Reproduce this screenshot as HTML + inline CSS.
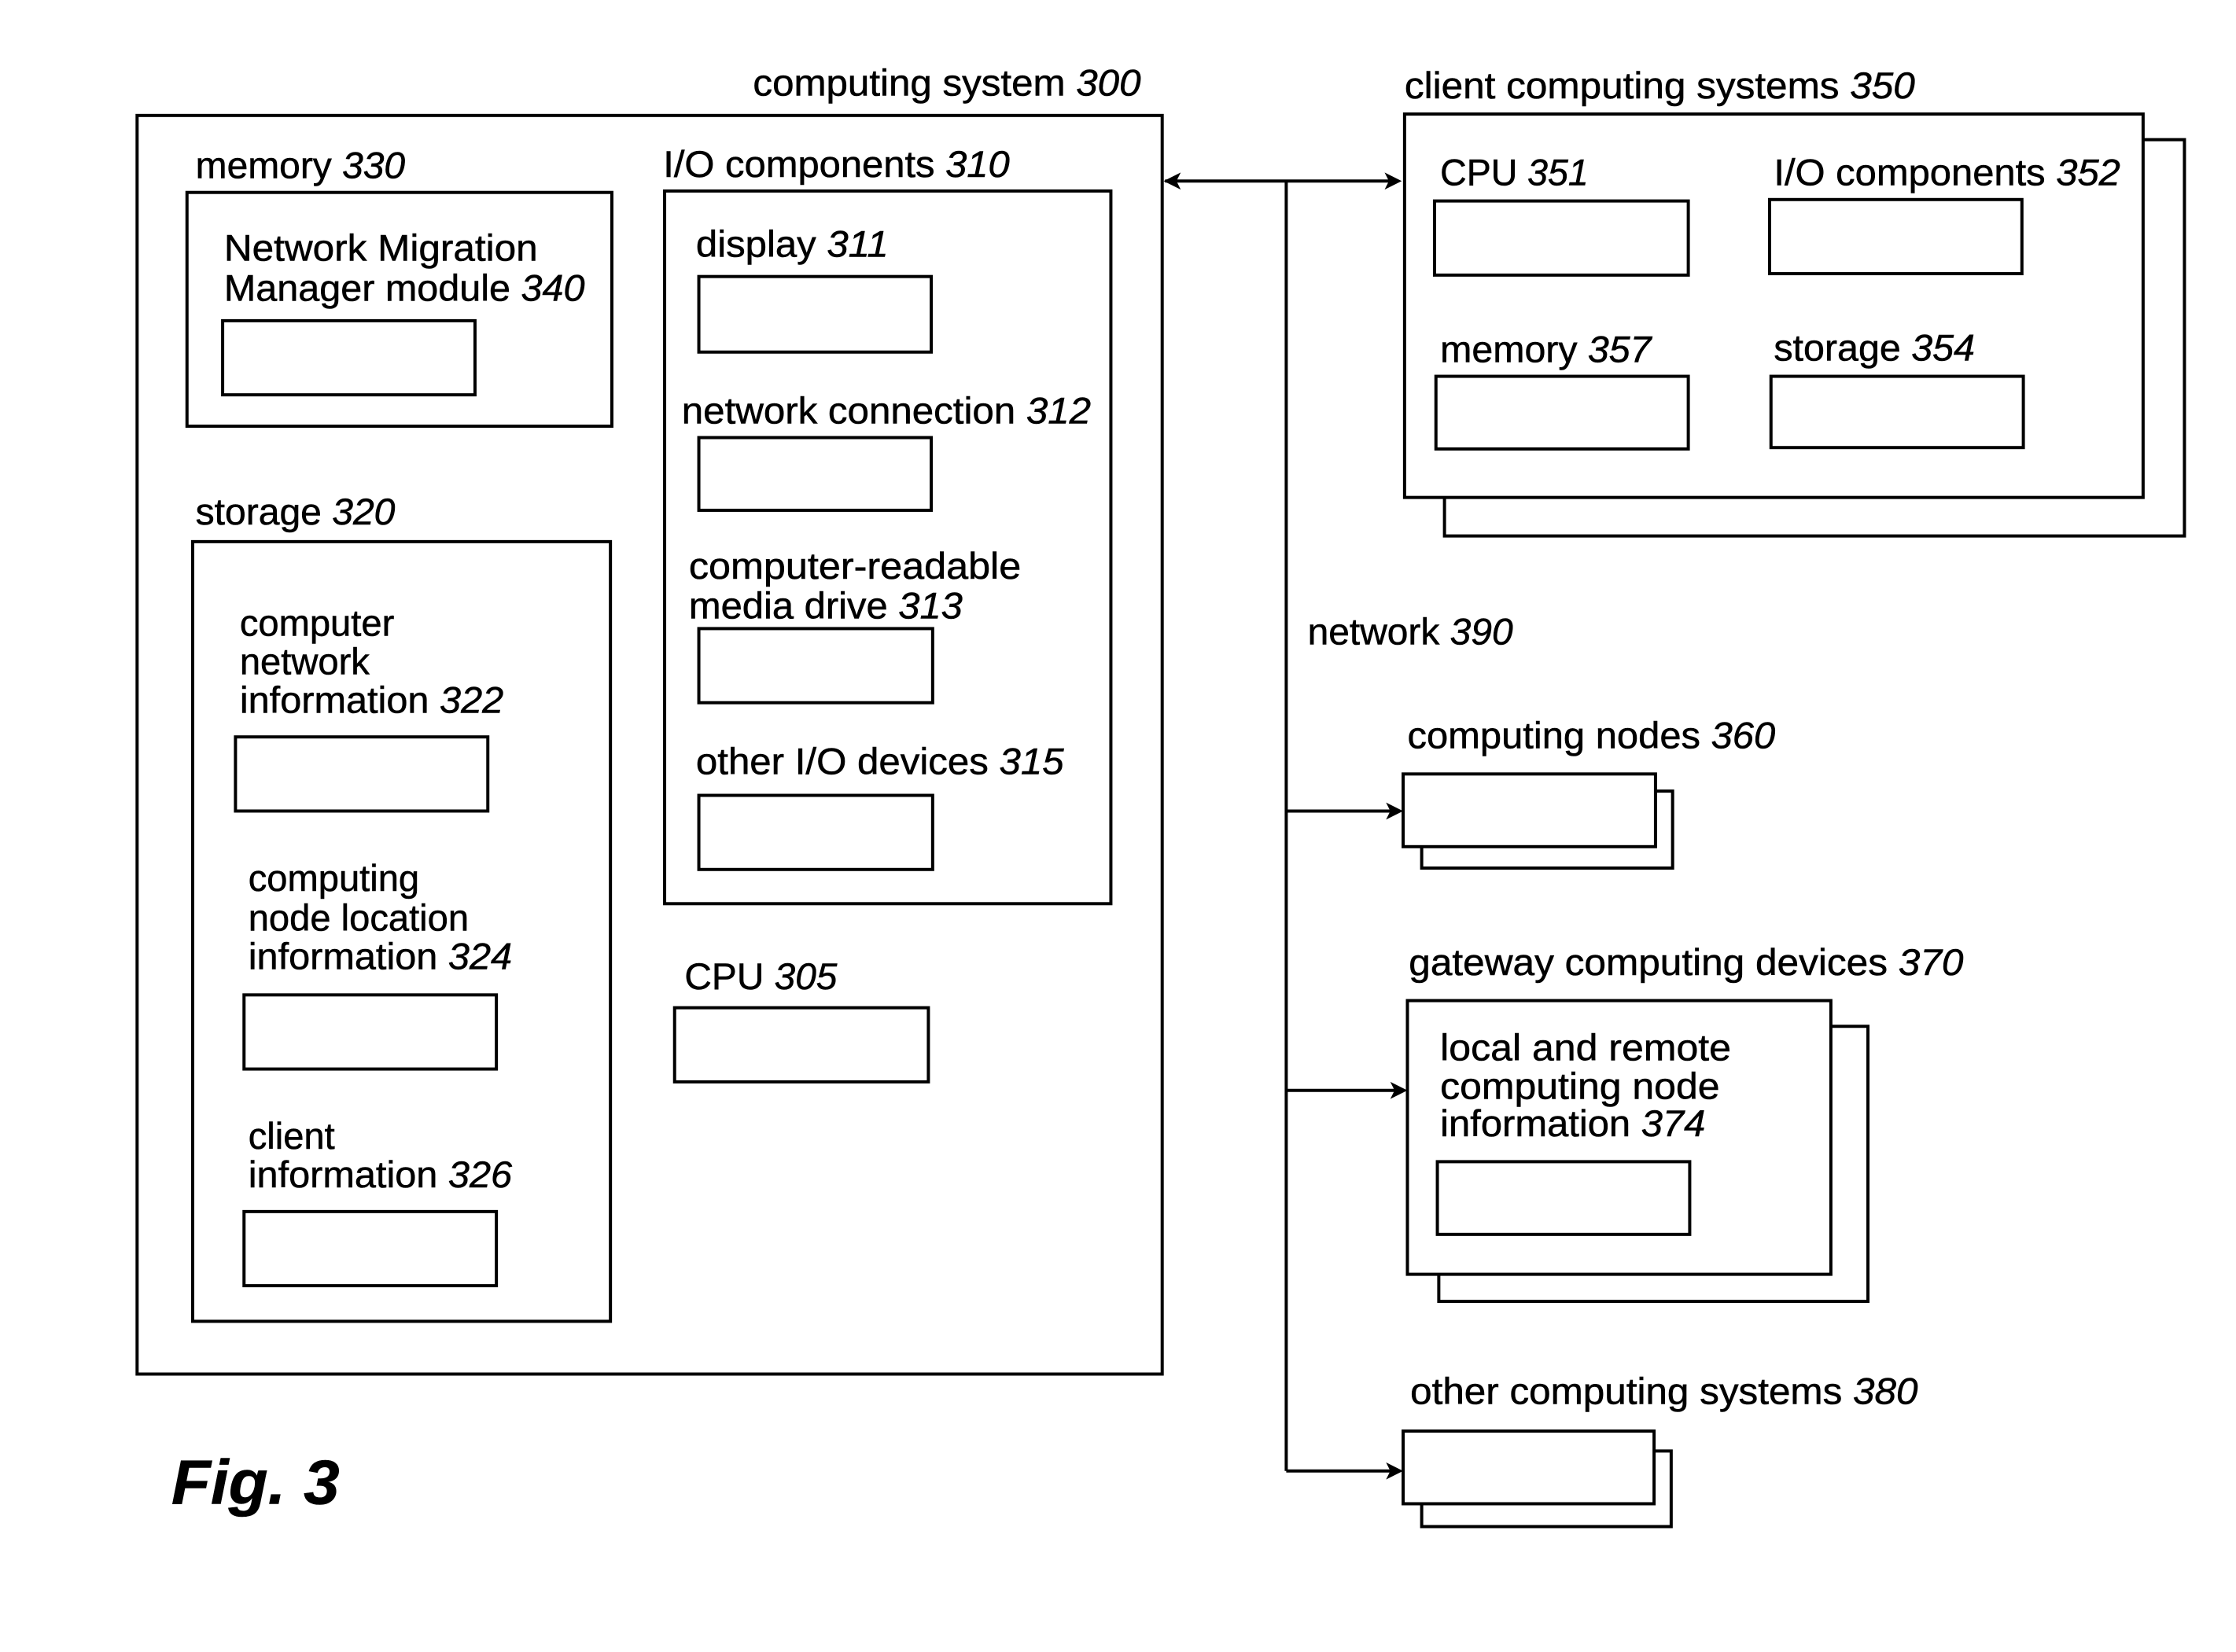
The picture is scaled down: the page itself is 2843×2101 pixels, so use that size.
<!DOCTYPE html>
<html><head><meta charset="utf-8"><style>
html,body{margin:0;padding:0;background:#fff;}
svg{display:block;}
text{font-family:"Liberation Sans",Arial,sans-serif;font-size:26px;fill:#000;stroke:#000;stroke-width:0.3px;}
.n{font-style:italic;}
</style></head><body>
<svg width="2843" height="2101" viewBox="0 0 1568 1159" xmlns="http://www.w3.org/2000/svg">
<g fill="none" stroke="#000" stroke-width="2.2">
<rect x="96" y="81" width="719" height="883"/>
<rect x="131" y="135" width="298" height="164"/>
<rect x="156" y="225" width="177" height="52"/>
<rect x="135" y="380" width="293" height="547"/>
<rect x="165" y="517" width="177" height="52"/>
<rect x="171" y="698" width="177" height="52"/>
<rect x="171" y="850" width="177" height="52"/>
<rect x="466" y="134" width="313" height="500"/>
<rect x="490" y="194" width="163" height="53"/>
<rect x="490" y="307" width="163" height="51"/>
<rect x="490" y="441" width="164" height="52"/>
<rect x="490" y="558" width="164" height="52"/>
<rect x="473" y="707" width="178" height="52"/>
<polyline points="1503,98 1532,98 1532,376 1013,376 1013,349"/>
<rect x="985" y="80" width="518" height="269"/>
<rect x="1006" y="141" width="178" height="52"/>
<rect x="1241" y="140" width="177" height="52"/>
<rect x="1007" y="264" width="177" height="51"/>
<rect x="1242" y="264" width="177" height="50"/>
<polyline points="1161,555 1173,555 1173,609 997,609 997,594"/>
<rect x="984" y="543" width="177" height="51"/>
<polyline points="1284,720 1310,720 1310,913 1009,913 1009,894"/>
<rect x="987" y="702" width="297" height="192"/>
<rect x="1008" y="815" width="177" height="51"/>
<polyline points="1160,1018 1172,1018 1172,1071 997,1071 997,1055"/>
<rect x="984" y="1004" width="176" height="51"/>
<line x1="817" y1="127" x2="980" y2="127"/>
<line x1="902" y1="127" x2="902" y2="1032"/>
<line x1="902" y1="569" x2="980" y2="569"/>
<line x1="902" y1="765" x2="982" y2="765"/>
<line x1="902" y1="1032" x2="980" y2="1032"/>
</g>
<g fill="#000">
<polygon points="816,127 828,121 825,127 828,133"/>
<polygon points="983,127 971,121 974,127 971,133"/>
<polygon points="984,569 972,563 975,569 972,575"/>
<polygon points="987,765 975,759 978,765 975,771"/>
<polygon points="984,1032 972,1026 975,1032 972,1038"/>
</g>
<text x="528" y="67" textLength="272" lengthAdjust="spacingAndGlyphs">computing system <tspan class="n">300</tspan></text>
<text x="137" y="125" textLength="147" lengthAdjust="spacingAndGlyphs">memory <tspan class="n">330</tspan></text>
<text x="157" y="183" textLength="220" lengthAdjust="spacingAndGlyphs">Network Migration</text>
<text x="157" y="211" textLength="253" lengthAdjust="spacingAndGlyphs">Manager module <tspan class="n">340</tspan></text>
<text x="137" y="368" textLength="140" lengthAdjust="spacingAndGlyphs">storage <tspan class="n">320</tspan></text>
<text x="168" y="446">computer</text>
<text x="168" y="473">network</text>
<text x="168" y="500" textLength="185" lengthAdjust="spacingAndGlyphs">information <tspan class="n">322</tspan></text>
<text x="174" y="625">computing</text>
<text x="174" y="653">node location</text>
<text x="174" y="680" textLength="185" lengthAdjust="spacingAndGlyphs">information <tspan class="n">324</tspan></text>
<text x="174" y="806">client</text>
<text x="174" y="833" textLength="185" lengthAdjust="spacingAndGlyphs">information <tspan class="n">326</tspan></text>
<text x="465" y="124" textLength="243" lengthAdjust="spacingAndGlyphs">I/O components <tspan class="n">310</tspan></text>
<text x="488" y="180" textLength="135" lengthAdjust="spacingAndGlyphs">display <tspan class="n">311</tspan></text>
<text x="478" y="297" textLength="287" lengthAdjust="spacingAndGlyphs">network connection <tspan class="n">312</tspan></text>
<text x="483" y="406" textLength="233" lengthAdjust="spacingAndGlyphs">computer-readable</text>
<text x="483" y="434" textLength="192" lengthAdjust="spacingAndGlyphs">media drive <tspan class="n">313</tspan></text>
<text x="488" y="543" textLength="258" lengthAdjust="spacingAndGlyphs">other I/O devices <tspan class="n">315</tspan></text>
<text x="480" y="694" textLength="107" lengthAdjust="spacingAndGlyphs">CPU <tspan class="n">305</tspan></text>
<text x="985" y="69" textLength="358" lengthAdjust="spacingAndGlyphs">client computing systems <tspan class="n">350</tspan></text>
<text x="1010" y="130" textLength="104" lengthAdjust="spacingAndGlyphs">CPU <tspan class="n">351</tspan></text>
<text x="1244" y="130" textLength="243" lengthAdjust="spacingAndGlyphs">I/O components <tspan class="n">352</tspan></text>
<text x="1010" y="254" textLength="148" lengthAdjust="spacingAndGlyphs">memory <tspan class="n">357</tspan></text>
<text x="1244" y="253" textLength="141" lengthAdjust="spacingAndGlyphs">storage <tspan class="n">354</tspan></text>
<text x="917" y="452" textLength="144" lengthAdjust="spacingAndGlyphs">network <tspan class="n">390</tspan></text>
<text x="987" y="525" textLength="258" lengthAdjust="spacingAndGlyphs">computing nodes <tspan class="n">360</tspan></text>
<text x="988" y="684" textLength="389" lengthAdjust="spacingAndGlyphs">gateway computing devices <tspan class="n">370</tspan></text>
<text x="1010" y="744" textLength="204" lengthAdjust="spacingAndGlyphs">local and remote</text>
<text x="1010" y="771" textLength="196" lengthAdjust="spacingAndGlyphs">computing node</text>
<text x="1010" y="797" textLength="186" lengthAdjust="spacingAndGlyphs">information <tspan class="n">374</tspan></text>
<text x="989" y="985" textLength="356" lengthAdjust="spacingAndGlyphs">other computing systems <tspan class="n">380</tspan></text>
<text x="120" y="1055" style="font-size:44px;font-weight:bold;font-style:italic" textLength="118" lengthAdjust="spacingAndGlyphs">Fig. 3</text>
</svg>
</body></html>
